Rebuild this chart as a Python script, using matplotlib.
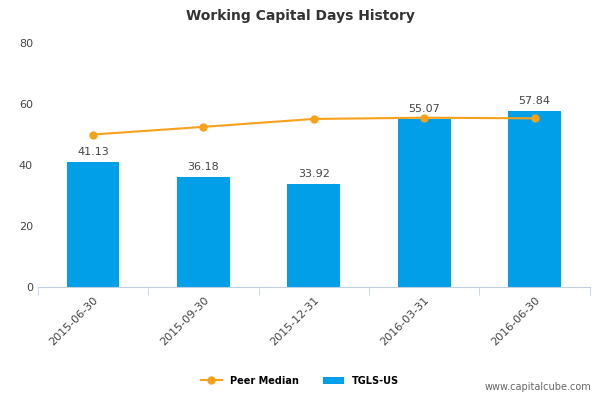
import matplotlib
matplotlib.use("Agg")
import matplotlib.pyplot as plt
import numpy as np

dates = ["2015-06-30", "2015-09-30", "2015-12-31", "2016-03-31", "2016-06-30"]
tgls = [41.13, 36.18, 33.92, 55.07, 57.84]
peer_median = [50.0, 52.5, 55.1, 55.5, 55.3]

bar_color = "#009fe8"
line_color = "#f7a11a"

fig = plt.figure(figsize=(6, 4), dpi=100)
ax = fig.add_axes([0.063, 0.2825, 0.92, 0.61])

x = np.arange(len(dates))
ax.bar(x, tgls, width=0.48, color=bar_color, label="TGLS-US", zorder=2)
ax.plot(x, peer_median, color=line_color, lw=1.5, marker="o", ms=5,
        label="Peer Median", zorder=3)
for xi, v in zip(x, tgls):
    ax.text(xi, v + 1.5, f"{v:.2f}", ha="center", va="bottom",
            fontsize=8, color="#444444", zorder=4)

ax.set_xlim(-0.5, len(dates) - 0.5)
ax.set_ylim(0, 80)
ax.set_yticks([0, 20, 40, 60, 80])
ax.tick_params(axis="y", length=0, labelsize=8, colors="#444444")
ax.set_xticks(x)
ax.set_xticklabels(dates, rotation=45, ha="right", rotation_mode="anchor",
                   fontsize=8, color="#444444")
ax.tick_params(axis="x", length=0, pad=6)
ax.set_xticks(np.arange(-0.5, len(dates)), minor=True)
ax.tick_params(axis="x", which="minor", length=6, color="#c0d0e0")
for s in ["top", "right", "left"]:
    ax.spines[s].set_visible(False)
ax.spines["bottom"].set_color("#c0d0e0")

fig.text(0.5, 0.96, "Working Capital Days History", ha="center", va="center",
         fontsize=10, fontweight="bold", color="#333333")
fig.legend(loc="center", bbox_to_anchor=(0.5, 0.048), ncol=2, frameon=False,
           fontsize=7, handlelength=2.2, columnspacing=2.5,
           prop={"weight": "bold", "size": 7})
fig.text(0.985, 0.02, "www.capitalcube.com", ha="right", va="bottom",
         fontsize=7, color="#666666")

fig.savefig("out.png", dpi=100)
